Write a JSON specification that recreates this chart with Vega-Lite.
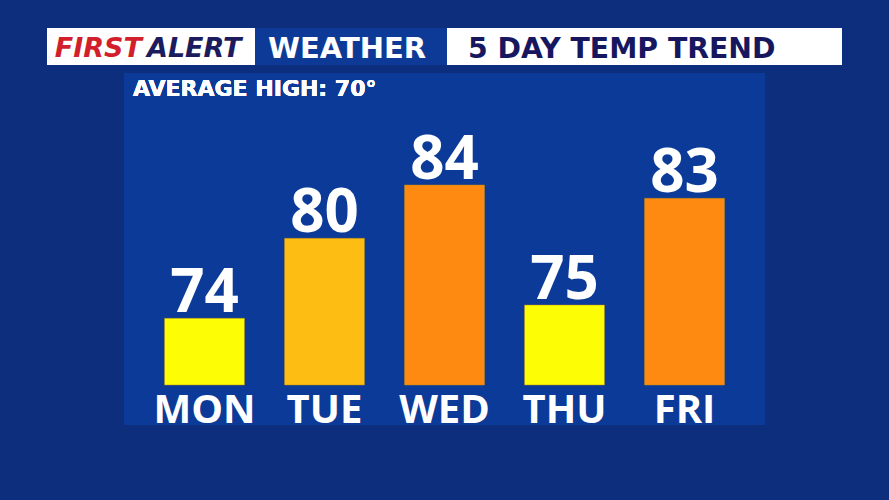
{
  "$schema": "https://vega.github.io/schema/vega-lite/v6.json",
  "background": "#0c2e7c",
  "padding": {"left": 47, "top": 28, "right": 47, "bottom": 75},
  "autosize": {"type": "pad"},
  "config": {"font": "Open Sans", "view": {"stroke": null}},
  "spacing": 8,
  "center": true,
  "vconcat": [
    {
      "spacing": 0,
      "hconcat": [
        {
          "width": 208,
          "height": 37,
          "view": {"fill": "#ffffff", "stroke": null},
          "data": {"values": [{}]},
          "layer": [
            {
              "mark": {"type": "text", "font": "DejaVu Sans", "fontWeight": "bold", "fontStyle": "italic", "fontSize": 27, "color": "#d21f2b", "align": "right", "baseline": "alphabetic", "dx": -9, "dy": 10},
              "encoding": {"text": {"value": "FIRST"}}
            },
            {
              "mark": {"type": "text", "font": "DejaVu Sans", "fontWeight": "bold", "fontStyle": "italic", "fontSize": 27, "color": "#1b1b5e", "align": "left", "baseline": "alphabetic", "dx": -4, "dy": 10},
              "encoding": {"text": {"value": "ALERT"}}
            }
          ]
        },
        {
          "width": 192,
          "height": 37,
          "view": {"fill": "#0c3a96", "stroke": null},
          "data": {"values": [{}]},
          "mark": {"type": "text", "font": "DejaVu Sans", "fontWeight": "bold", "fontSize": 29, "color": "#ffffff", "align": "center", "baseline": "alphabetic", "dy": 11, "dx": -4},
          "encoding": {"text": {"value": "WEATHER"}}
        },
        {
          "width": 395,
          "height": 37,
          "view": {"fill": "#ffffff", "stroke": null},
          "data": {"values": [{}]},
          "mark": {"type": "text", "font": "DejaVu Sans", "fontWeight": "bold", "fontSize": 28.3, "color": "#16175f", "align": "left", "baseline": "alphabetic", "dy": 11, "dx": -176.5},
          "encoding": {"text": {"value": "5 DAY TEMP TREND"}}
        }
      ]
    },
    {
      "width": 641,
      "height": 352,
      "view": {"fill": "#0b3a98", "stroke": null},
      "data": {
        "values": [
          {"day": "MON", "temp": 74},
          {"day": "TUE", "temp": 80},
          {"day": "WED", "temp": 84},
          {"day": "THU", "temp": 75},
          {"day": "FRI", "temp": 83}
        ]
      },
      "encoding": {
        "x": {
          "field": "day",
          "type": "nominal",
          "sort": ["MON", "TUE", "WED", "THU", "FRI"],
          "scale": {"paddingInner": 0.3333, "paddingOuter": 0.3375},
          "axis": {"orient": "bottom", "offset": -3, "domain": false, "ticks": false, "tickSize": 0, "labelPadding": 0, "labelBaseline": "alphabetic", "labelAngle": 0, "labelFontSize": 40, "labelFontWeight": "bold", "labelColor": "#ffffff", "labelFont": "Open Sans", "title": null}
        },
        "y": {
          "field": "temp",
          "type": "quantitative",
          "scale": {"domain": [66, 92.4], "nice": false, "zero": false},
          "axis": null
        }
      },
      "layer": [
        {
          "mark": {"type": "bar", "stroke": "#b88a10", "strokeWidth": 0.8, "strokeOpacity": 0.6},
          "encoding": {
            "y2": {"datum": 69},
            "color": {
              "field": "temp",
              "type": "quantitative",
              "scale": {"type": "threshold", "domain": [78, 82], "range": ["#fdfd05", "#fdbd12", "#fe8a12"]},
              "legend": null
            }
          }
        },
        {
          "mark": {"type": "text", "font": "Open Sans", "fontSize": 60, "fontWeight": "bold", "color": "#ffffff", "baseline": "alphabetic", "dy": -6},
          "encoding": {"text": {"field": "temp", "type": "quantitative"}}
        },
        {
          "mark": {"type": "text", "font": "DejaVu Sans", "fontSize": 22, "fontWeight": "bold", "color": "#ffffff", "align": "left", "baseline": "alphabetic", "dx": -71.5},
          "encoding": {
            "x": {"datum": "MON"},
            "y": {"datum": 90.675},
            "text": {"value": "AVERAGE HIGH: 70°"}
          }
        }
      ]
    }
  ]
}
